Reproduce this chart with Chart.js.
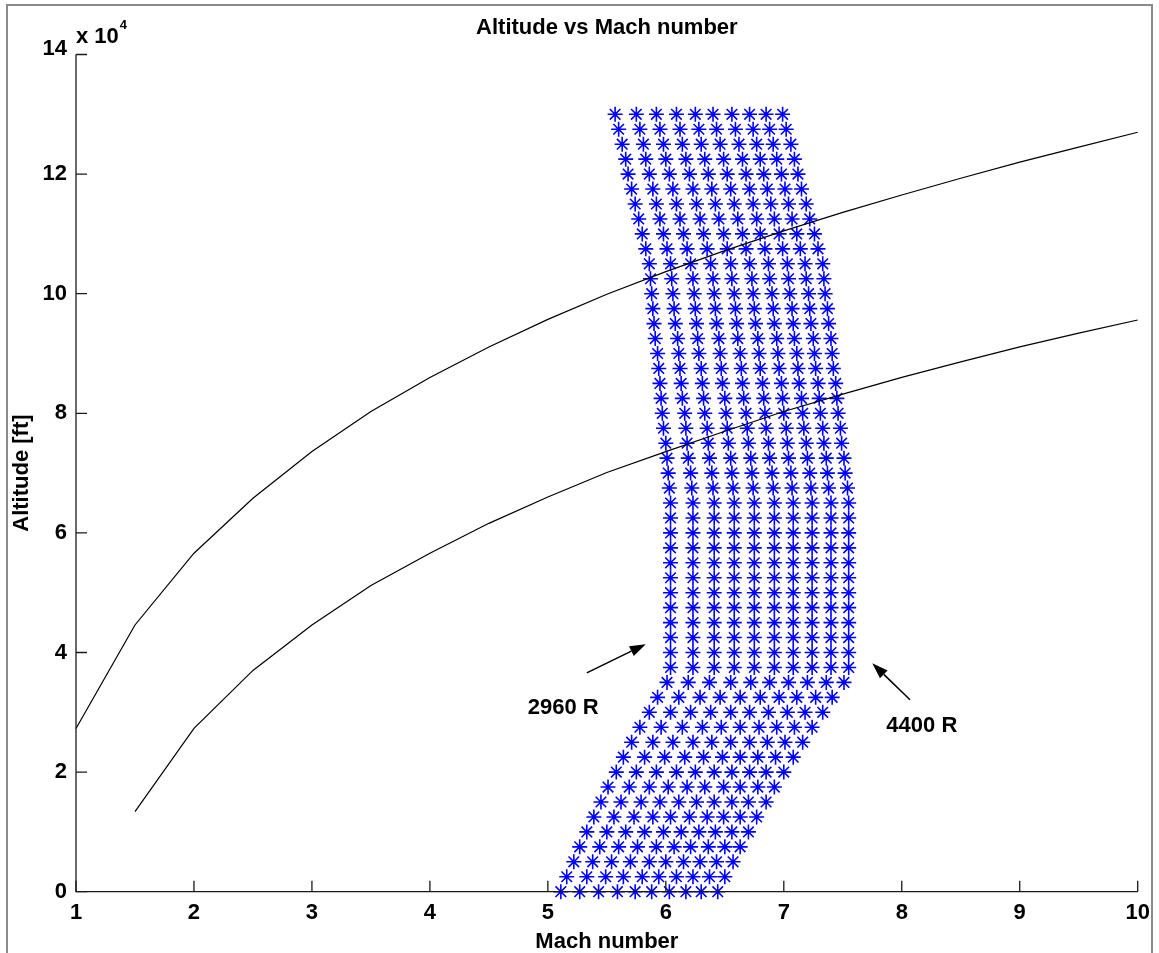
<!DOCTYPE html>
<html>
<head>
<meta charset="utf-8">
<script src="https://cdn.jsdelivr.net/npm/chart.js@4.4.1/dist/chart.umd.min.js"></script>
<style>
  html, body { margin: 0; padding: 0; background: #ffffff; }
  #wrap { width: 1159px; height: 953px; position: relative; }
  canvas { display: block; }
</style>
</head>
<body>
<div id="wrap"><canvas id="c" width="1159" height="953"></canvas></div>
<script>
// ---------------- data ----------------
const chartTitle = 'Altitude vs Mach number';
const xTitle = 'Mach number';
const yTitle = 'Altitude [ft]';

const xTicks = [1, 2, 3, 4, 5, 6, 7, 8, 9, 10];
const yTicks = [0, 20000, 40000, 60000, 80000, 100000, 120000, 140000];

// altitude rows of the star grid [ft]
const altitudes = [0, 2500, 5000, 7500, 10000, 12500, 15000, 17500, 20000, 22500, 25000, 27500, 30000, 32500, 35000,
  37500, 40000, 42500, 45000, 47500, 50000, 52500, 55000, 57500, 60000, 62500, 65000,
  67500, 70000, 72500, 75000, 77500, 80000, 82500, 85000, 87500, 90000, 92500, 95000, 97500, 100000, 102500,
  105000, 107500, 110000, 112500, 115000, 117500, 120000, 122500, 125000, 127500, 130000];

// total temperatures of the constant-temperature columns [R]
const temps = [2960, 3120, 3280, 3440, 3600, 3760, 3920, 4080, 4240, 4400];

// Mach number of each column at each altitude row
const mach2960 = [5.11, 5.16, 5.22, 5.27, 5.33, 5.39, 5.45, 5.51, 5.58, 5.64, 5.71, 5.78, 5.86, 5.93, 6.01,
  6.04, 6.04, 6.04, 6.04, 6.04, 6.04, 6.04, 6.04, 6.04, 6.04, 6.04, 6.04,
  6.03, 6.02, 6.01, 6.00, 5.98, 5.97, 5.96, 5.95, 5.94, 5.93, 5.91, 5.90, 5.89, 5.88, 5.87,
  5.86, 5.83, 5.80, 5.77, 5.74, 5.71, 5.68, 5.66, 5.63, 5.60, 5.57];
const mach3120 = [5.27, 5.33, 5.38, 5.44, 5.50, 5.56, 5.62, 5.69, 5.75, 5.82, 5.89, 5.96, 6.04, 6.11, 6.19,
  6.23, 6.23, 6.23, 6.23, 6.23, 6.23, 6.23, 6.23, 6.23, 6.23, 6.23, 6.23,
  6.22, 6.21, 6.19, 6.18, 6.17, 6.16, 6.14, 6.13, 6.12, 6.11, 6.10, 6.08, 6.07, 6.06, 6.05,
  6.04, 6.01, 5.98, 5.95, 5.92, 5.89, 5.86, 5.83, 5.81, 5.78, 5.75];
const mach3280 = [5.43, 5.49, 5.54, 5.60, 5.66, 5.73, 5.79, 5.86, 5.92, 5.99, 6.06, 6.14, 6.21, 6.29, 6.37,
  6.41, 6.41, 6.41, 6.41, 6.41, 6.41, 6.41, 6.41, 6.41, 6.41, 6.41, 6.41,
  6.40, 6.39, 6.37, 6.36, 6.35, 6.33, 6.32, 6.31, 6.30, 6.28, 6.27, 6.26, 6.25, 6.24, 6.23,
  6.21, 6.18, 6.15, 6.12, 6.09, 6.06, 6.03, 6.00, 5.98, 5.95, 5.92];
const mach3440 = [5.59, 5.64, 5.70, 5.76, 5.82, 5.89, 5.95, 6.02, 6.09, 6.16, 6.23, 6.31, 6.38, 6.46, 6.55,
  6.58, 6.58, 6.58, 6.58, 6.58, 6.58, 6.58, 6.58, 6.58, 6.58, 6.58, 6.58,
  6.57, 6.56, 6.55, 6.53, 6.52, 6.51, 6.50, 6.48, 6.47, 6.46, 6.45, 6.43, 6.42, 6.41, 6.40,
  6.38, 6.35, 6.32, 6.29, 6.26, 6.23, 6.20, 6.17, 6.14, 6.12, 6.09];
const mach3600 = [5.74, 5.80, 5.86, 5.92, 5.98, 6.04, 6.11, 6.18, 6.25, 6.32, 6.39, 6.47, 6.55, 6.63, 6.72,
  6.75, 6.75, 6.75, 6.75, 6.75, 6.75, 6.75, 6.75, 6.75, 6.75, 6.75, 6.75,
  6.74, 6.73, 6.72, 6.70, 6.69, 6.68, 6.66, 6.65, 6.64, 6.63, 6.61, 6.60, 6.59, 6.58, 6.56,
  6.55, 6.52, 6.49, 6.45, 6.42, 6.39, 6.36, 6.33, 6.30, 6.28, 6.25];
const mach3760 = [5.88, 5.94, 6.00, 6.07, 6.13, 6.20, 6.26, 6.33, 6.41, 6.48, 6.55, 6.63, 6.71, 6.80, 6.88,
  6.92, 6.92, 6.92, 6.92, 6.92, 6.92, 6.92, 6.92, 6.92, 6.92, 6.92, 6.92,
  6.91, 6.90, 6.88, 6.87, 6.85, 6.84, 6.83, 6.82, 6.80, 6.79, 6.78, 6.76, 6.75, 6.74, 6.73,
  6.71, 6.68, 6.65, 6.61, 6.58, 6.55, 6.52, 6.49, 6.46, 6.43, 6.40];
const mach3920 = [6.03, 6.09, 6.15, 6.21, 6.28, 6.35, 6.41, 6.49, 6.56, 6.63, 6.71, 6.79, 6.87, 6.96, 7.04,
  7.08, 7.08, 7.08, 7.08, 7.08, 7.08, 7.08, 7.08, 7.08, 7.08, 7.08, 7.08,
  7.07, 7.06, 7.04, 7.03, 7.02, 7.00, 6.99, 6.98, 6.96, 6.95, 6.94, 6.92, 6.91, 6.90, 6.88,
  6.87, 6.84, 6.80, 6.77, 6.74, 6.71, 6.68, 6.65, 6.62, 6.59, 6.56];
const mach4080 = [6.17, 6.23, 6.29, 6.36, 6.42, 6.49, 6.56, 6.63, 6.71, 6.78, 6.86, 6.94, 7.03, 7.11, 7.20,
  7.24, 7.24, 7.24, 7.24, 7.24, 7.24, 7.24, 7.24, 7.24, 7.24, 7.24, 7.24,
  7.23, 7.22, 7.20, 7.19, 7.17, 7.16, 7.15, 7.13, 7.12, 7.11, 7.09, 7.08, 7.07, 7.05, 7.04,
  7.03, 6.99, 6.96, 6.92, 6.89, 6.86, 6.83, 6.80, 6.77, 6.74, 6.71];
const mach4240 = [6.30, 6.37, 6.43, 6.50, 6.56, 6.63, 6.70, 6.78, 6.85, 6.93, 7.01, 7.09, 7.18, 7.27, 7.36,
  7.40, 7.40, 7.40, 7.40, 7.40, 7.40, 7.40, 7.40, 7.40, 7.40, 7.40, 7.40,
  7.38, 7.37, 7.36, 7.34, 7.33, 7.31, 7.30, 7.29, 7.27, 7.26, 7.25, 7.23, 7.22, 7.21, 7.19,
  7.18, 7.14, 7.11, 7.07, 7.04, 7.01, 6.98, 6.94, 6.91, 6.88, 6.85];
const mach4400 = [6.44, 6.50, 6.57, 6.63, 6.70, 6.77, 6.85, 6.92, 7.00, 7.08, 7.16, 7.24, 7.33, 7.41, 7.51,
  7.55, 7.55, 7.55, 7.55, 7.55, 7.55, 7.55, 7.55, 7.55, 7.55, 7.55, 7.55,
  7.54, 7.52, 7.51, 7.49, 7.48, 7.46, 7.45, 7.44, 7.42, 7.41, 7.40, 7.38, 7.37, 7.35, 7.34,
  7.33, 7.29, 7.26, 7.22, 7.19, 7.15, 7.12, 7.09, 7.06, 7.02, 6.99];
const machColumns = [mach2960, mach3120, mach3280, mach3440, mach3600, mach3760, mach3920, mach4080, mach4240, mach4400];

// upper black curve
const upperMach = [1, 1.5, 2, 2.5, 3, 3.5, 4, 4.5, 5, 5.5, 6, 6.5, 7, 7.5, 8, 8.5, 9, 9.5, 10];
const upperAlt = [27300, 44600, 56600, 65800, 73600, 80300, 86000, 91100, 95700, 99900, 103700, 107200,
  110500, 113600, 116500, 119300, 122000, 124500, 127000];
// lower black curve
const lowerMach = [1.5, 2, 2.5, 3, 3.5, 4, 4.5, 5, 5.5, 6, 6.5, 7, 7.5, 8, 8.5, 9, 9.5, 10];
const lowerAlt = [13400, 27300, 37000, 44600, 51200, 56600, 61600, 66000, 70100, 73600, 77000, 80300,
  83200, 86000, 88600, 91100, 93400, 95600];

// annotation labels and arrows (data coordinates)
const noteLabels = ['2960 R', '4400 R'];
const noteTextAt = [[5.13, 30750], [8.17, 27660]];
const noteArrowFrom = [[5.33, 36600], [8.07, 32100]];
const noteArrowTo = [[5.83, 41400], [7.75, 38200]];

// ---------------- chart ----------------
const FONT = '"Liberation Sans", Arial, Helvetica, sans-serif';
const BLUE = 'rgb(0,0,255)';

const starSets = machColumns.map((col, k) => ({
  label: temps[k] + ' R',
  data: altitudes.map((h, i) => ({ x: col[i], y: h })),
  showLine: false,
  pointStyle: 'star',
  pointRadius: 7.5,
  pointBorderWidth: 1.6,
  borderColor: BLUE,
  backgroundColor: BLUE,
  clip: false
}));

const lineSet = (xs, ys, name) => ({
  label: name,
  data: xs.map((x, i) => ({ x: x, y: ys[i] })),
  showLine: true,
  borderColor: '#000000',
  borderWidth: 1.2,
  pointRadius: 0,
  tension: 0,
  fill: false,
  clip: false
});

const decor = {
  id: 'decor',
  afterDraw(chart) {
    const ctx = chart.ctx;
    const xs = chart.scales.x, ys = chart.scales.y;
    const L = xs.left, R = xs.right, T = ys.top, B = ys.bottom;
    ctx.save();
    // outer figure frame
    ctx.strokeStyle = '#8a8a8a';
    ctx.lineWidth = 2;
    ctx.beginPath();
    ctx.moveTo(7, 960); ctx.lineTo(7, 5); ctx.lineTo(1152, 5); ctx.lineTo(1152, 960);
    ctx.stroke();

    // axes lines
    ctx.strokeStyle = '#1a1a1a';
    ctx.lineWidth = 1.3;
    ctx.beginPath();
    ctx.moveTo(L, T); ctx.lineTo(L, B); ctx.lineTo(R, B);
    ctx.stroke();
    // inward ticks
    ctx.beginPath();
    xTicks.forEach(v => { const p = xs.getPixelForValue(v); ctx.moveTo(p, B); ctx.lineTo(p, B - 11); });
    yTicks.forEach(v => { const p = ys.getPixelForValue(v); ctx.moveTo(L, p); ctx.lineTo(L + 11, p); });
    ctx.stroke();

    ctx.fillStyle = '#000';
    // top tick label and exponent
    ctx.font = 'bold 22px ' + FONT;
    ctx.textAlign = 'right';
    ctx.textBaseline = 'alphabetic';
    ctx.fillText(String(yTicks[yTicks.length - 1] / 10000), L - 9, ys.getPixelForValue(140000) + 0.5);
    ctx.textAlign = 'left';
    ctx.fillText('x 10', L, 43);
    const w = ctx.measureText('x 10').width;
    ctx.font = 'bold 13px ' + FONT;
    ctx.fillText('4', L + w + 1, 29);

    // title
    ctx.font = 'bold 22px ' + FONT;
    ctx.textAlign = 'center';
    ctx.textBaseline = 'middle';
    ctx.fillText(chartTitle, (L + R) / 2, 28);
    // x axis title
    ctx.fillText(xTitle, (L + R) / 2, 942);
    // y axis title
    ctx.save();
    ctx.translate(22, (T + B) / 2);
    ctx.rotate(-Math.PI / 2);
    ctx.fillText(yTitle, 0, 0);
    ctx.restore();

    // annotations
    ctx.font = 'bold 22px ' + FONT;
    noteLabels.forEach((txt, i) => {
      ctx.fillText(txt, xs.getPixelForValue(noteTextAt[i][0]), ys.getPixelForValue(noteTextAt[i][1]));
    });
    ctx.strokeStyle = '#000';
    ctx.lineWidth = 1.5;
    noteArrowFrom.forEach((f, i) => {
      const x1 = xs.getPixelForValue(f[0]), y1 = ys.getPixelForValue(f[1]);
      const x2 = xs.getPixelForValue(noteArrowTo[i][0]), y2 = ys.getPixelForValue(noteArrowTo[i][1]);
      const a = Math.atan2(y2 - y1, x2 - x1);
      const HL = 16, HW = 5.5;
      const bx = x2 - HL * Math.cos(a), by = y2 - HL * Math.sin(a);
      ctx.beginPath(); ctx.moveTo(x1, y1); ctx.lineTo(bx, by); ctx.stroke();
      ctx.beginPath();
      ctx.moveTo(x2, y2);
      ctx.lineTo(bx + HW * Math.sin(a), by - HW * Math.cos(a));
      ctx.lineTo(bx - HW * Math.sin(a), by + HW * Math.cos(a));
      ctx.closePath();
      ctx.fill();
    });
    ctx.restore();
  }
};

new Chart(document.getElementById('c'), {
  type: 'scatter',
  data: {
    datasets: [lineSet(upperMach, upperAlt, 'upper'), lineSet(lowerMach, lowerAlt, 'lower')].concat(starSets)
  },
  options: {
    responsive: false,
    animation: false,
    devicePixelRatio: 1,
    events: [],
    layout: { padding: { left: 0, right: 21.3, top: 54.5, bottom: 0 } },
    plugins: {
      legend: { display: false },
      tooltip: { enabled: false },
      title: { display: false }
    },
    scales: {
      x: {
        type: 'linear',
        min: 1, max: 10,
        afterBuildTicks: s => { s.ticks = xTicks.map(v => ({ value: v })); },
        ticks: {
          color: '#000',
          font: { family: FONT, size: 22, weight: 'bold', lineHeight: 1.2 },
          padding: 8,
          maxRotation: 0,
          autoSkip: false
        },
        grid: { display: false, drawTicks: false },
        border: { display: false },
        afterFit: s => { s.height = 61.3; }
      },
      y: {
        type: 'linear',
        min: 0, max: 140000,
        afterBuildTicks: s => { s.ticks = yTicks.map(v => ({ value: v })); },
        ticks: {
          color: '#000',
          font: { family: FONT, size: 22, weight: 'bold', lineHeight: 1.2 },
          padding: 9,
          autoSkip: false,
          callback: v => (v === 140000 ? '' : String(v / 10000))
        },
        grid: { display: false, drawTicks: false },
        border: { display: false },
        afterFit: s => { s.width = 76; }
      }
    }
  },
  plugins: [decor]
});
</script>
</body>
</html>
